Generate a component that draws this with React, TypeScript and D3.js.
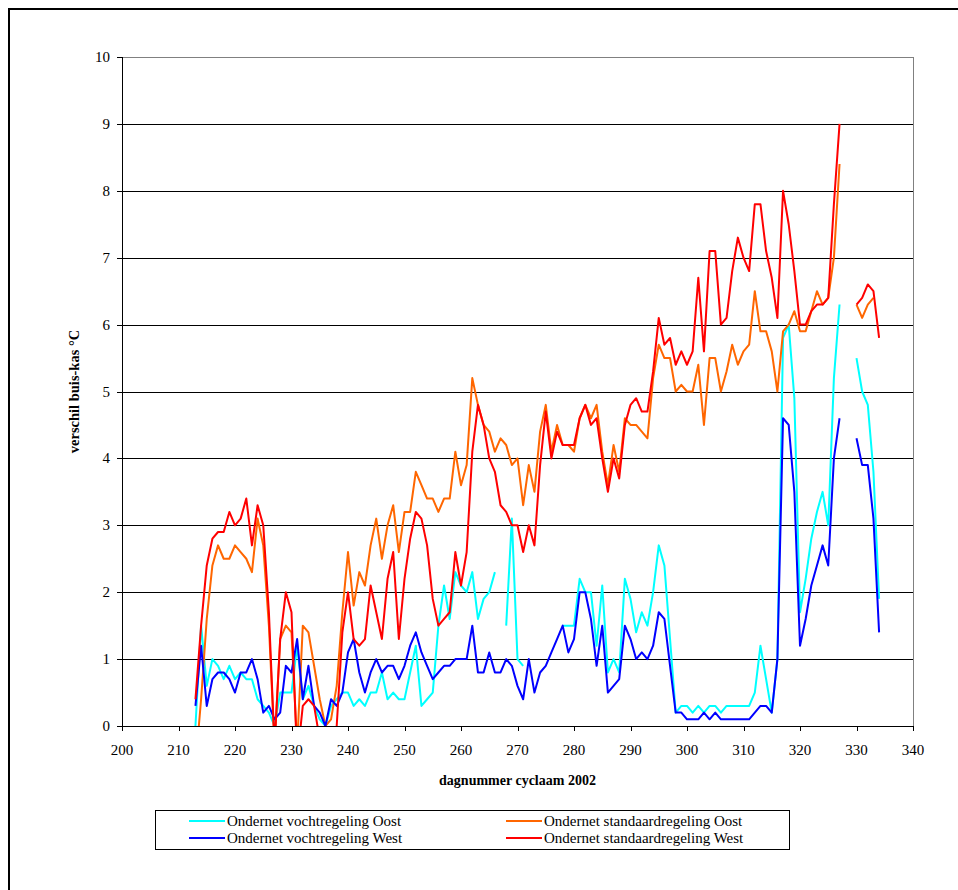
import React from "react";
import * as d3 from "d3";

const days: number[] = d3.range(213, 335);
const xTickValues = [200, 210, 220, 230, 240, 250, 260, 270, 280, 290, 300, 310, 320, 330, 340];
const yTickValues = [0, 1, 2, 3, 4, 5, 6, 7, 8, 9, 10];

const vochtOost: (number | null)[] = [
  0, 1.5, 0.6, 1.0, 0.9, 0.7, 0.9, 0.7, 0.8, 0.7,
  0.7, 0.4, 0.3, 0.2, 0, 0.5, 0.5, 0.5, 1.2, 0.4,
  0.6, 0.3, 0.1, 0, 0.3, 0.4, 0.5, 0.5, 0.3, 0.4,
  0.3, 0.5, 0.5, 0.8, 0.4, 0.5, 0.4, 0.4, 0.8, 1.2,
  0.3, 0.4, 0.5, 1.5, 2.1, 1.6, 2.3, 2.1, 2.0, 2.3,
  1.6, 1.9, 2.0, 2.3, null, 1.5, 3.1, 1.0, 0.9, null,
  null, null, null, null, null, 1.5, 1.5, 1.5, 2.2, 2.0,
  2.0, 1.2, 2.1, 0.8, 1.0, 0.8, 2.2, 1.9, 1.4, 1.7,
  1.5, 2.0, 2.7, 2.4, 1.3, 0.2, 0.3, 0.3, 0.2, 0.3,
  0.2, 0.3, 0.3, 0.2, 0.3, 0.3, 0.3, 0.3, 0.3, 0.5,
  1.2, 0.7, 0.2, 1.0, 5.8, 6.0, 4.9, 1.7, 2.2, 2.8,
  3.2, 3.5, 3.0, 5.2, 6.3, null, null, 5.5, 5.0, 4.8,
  3.8, 1.9,
];

const standaardOost: (number | null)[] = [
  -0.6, 0.4, 1.6, 2.4, 2.7, 2.5, 2.5, 2.7, 2.6, 2.5,
  2.3, 3.1, 2.7, 1.5, -0.3, 1.3, 1.5, 1.4, -0.3, 1.5,
  1.4, 0.9, 0.4, 0, 0.1, 0.6, 1.7, 2.6, 1.8, 2.3,
  2.1, 2.7, 3.1, 2.5, 3.0, 3.3, 2.6, 3.2, 3.2, 3.8,
  3.6, 3.4, 3.4, 3.2, 3.4, 3.4, 4.1, 3.6, 3.9, 5.2,
  4.8, 4.5, 4.4, 4.1, 4.3, 4.2, 3.9, 4.0, 3.3, 3.9,
  3.5, 4.4, 4.8, 4.1, 4.5, 4.2, 4.2, 4.1, 4.6, 4.8,
  4.6, 4.8, 4.1, 3.6, 4.2, 3.8, 4.6, 4.5, 4.5, 4.4,
  4.3, 5.2, 5.7, 5.5, 5.5, 5.0, 5.1, 5.0, 5.0, 5.4,
  4.5, 5.5, 5.5, 5.0, 5.3, 5.7, 5.4, 5.6, 5.7, 6.5,
  5.9, 5.9, 5.6, 5.0, 5.9, 6.0, 6.2, 5.9, 5.9, 6.2,
  6.5, 6.3, 6.4, 7.0, 8.4, null, null, 6.3, 6.1, 6.3,
  6.4, null,
];

const vochtWest: (number | null)[] = [
  0.3, 1.2, 0.3, 0.7, 0.8, 0.8, 0.7, 0.5, 0.8, 0.8,
  1.0, 0.7, 0.2, 0.3, 0.1, 0.2, 0.9, 0.8, 1.3, 0.4,
  0.9, 0.3, 0.2, 0, 0.4, 0.3, 0.5, 1.1, 1.3, 0.8,
  0.5, 0.8, 1.0, 0.8, 0.9, 0.9, 0.7, 0.9, 1.2, 1.4,
  1.1, 0.9, 0.7, 0.8, 0.9, 0.9, 1.0, 1.0, 1.0, 1.5,
  0.8, 0.8, 1.1, 0.8, 0.8, 1.0, 0.9, 0.6, 0.4, 1.0,
  0.5, 0.8, 0.9, 1.1, 1.3, 1.5, 1.1, 1.3, 2.0, 2.0,
  1.6, 0.9, 1.5, 0.5, 0.6, 0.7, 1.5, 1.3, 1.0, 1.1,
  1.0, 1.2, 1.7, 1.6, 0.9, 0.2, 0.2, 0.1, 0.1, 0.1,
  0.2, 0.1, 0.2, 0.1, 0.1, 0.1, 0.1, 0.1, 0.1, 0.2,
  0.3, 0.3, 0.2, 1.0, 4.6, 4.5, 3.5, 1.2, 1.6, 2.1,
  2.4, 2.7, 2.4, 4.0, 4.6, null, null, 4.3, 3.9, 3.9,
  3.1, 1.4,
];

const standaardWest: (number | null)[] = [
  0.4, 1.5, 2.4, 2.8, 2.9, 2.9, 3.2, 3.0, 3.1, 3.4,
  2.7, 3.3, 3.0, 1.7, -0.3, 1.3, 2.0, 1.7, -0.5, 0.3,
  0.4, 0.3, -0.2, -0.5, -0.3, 0, 1.4, 2.0, 1.3, 1.2,
  1.3, 2.1, 1.7, 1.3, 2.2, 2.6, 1.3, 2.2, 2.8, 3.2,
  3.1, 2.7, 1.9, 1.5, 1.6, 1.7, 2.6, 2.1, 2.6, 4.1,
  4.8, 4.5, 4.0, 3.8, 3.3, 3.2, 3.0, 3.0, 2.6, 3.0,
  2.7, 3.9, 4.7, 4.0, 4.4, 4.2, 4.2, 4.2, 4.6, 4.8,
  4.5, 4.6, 4.0, 3.5, 4.0, 3.7, 4.5, 4.8, 4.9, 4.7,
  4.7, 5.3, 6.1, 5.7, 5.8, 5.4, 5.6, 5.4, 5.6, 6.7,
  5.6, 7.1, 7.1, 6.0, 6.1, 6.8, 7.3, 7.0, 6.8, 7.8,
  7.8, 7.1, 6.7, 6.1, 8.0, 7.5, 6.8, 6.0, 6.0, 6.2,
  6.3, 6.3, 6.4, 7.8, 9.0, null, null, 6.3, 6.4, 6.6,
  6.5, 5.8,
];

const seriesNames = [
  "Ondernet vochtregeling Oost",
  "Ondernet standaardregeling Oost",
  "Ondernet vochtregeling West",
  "Ondernet standaardregeling West",
];
const seriesColors = ["#00FFFF", "#FF6600", "#0000FF", "#FF0000"];
const seriesValues = [vochtOost, standaardOost, vochtWest, standaardWest];

const xTitle = "dagnummer cyclaam 2002";
const yTitle = "verschil buis-kas °C";

const FONT = "'Liberation Serif', 'Times New Roman', Times, serif";

export default function App() {
  const W = 958;
  const H = 890;
  const left = 122;
  const right = 913;
  const top = 57;
  const bottom = 726;

  const x = d3.scaleLinear().domain([200, 340]).range([left, right]);
  const y = d3.scaleLinear().domain([0, 10]).range([bottom, top]);

  const line = d3
    .line<[number, number | null]>()
    .defined((d) => d[1] != null)
    .x((d) => x(d[0]))
    .y((d) => y(d[1] as number));

  const legendItems = [
    { i: 0, lx: 189, ly: 821 },
    { i: 1, lx: 506, ly: 821 },
    { i: 2, lx: 189, ly: 838 },
    { i: 3, lx: 506, ly: 838 },
  ];

  const txt = { fontFamily: FONT };

  return (
    <svg
      width={W}
      height={H}
      style={{ position: "absolute", left: 0, top: 0, background: "#fff", fontFamily: FONT }}
    >
      <defs>
        <clipPath id="plotClip">
          <rect x={left} y={top - 2} width={right - left} height={bottom - top + 2} />
        </clipPath>
      </defs>
      <rect x={0} y={0} width={W} height={H} fill="#fff" />
      <rect x={9} y={9} width={1000} height={1000} fill="none" stroke="#000" strokeWidth={2} />

      {yTickValues.filter((v) => v > 0).map((v) => (
        <line
          key={"g" + v}
          x1={left}
          x2={right}
          y1={Math.round(y(v)) + 0.5}
          y2={Math.round(y(v)) + 0.5}
          stroke={v === 10 ? "#808080" : "#000"}
          strokeWidth={1}
        />
      ))}
      <line x1={right + 0.5} x2={right + 0.5} y1={top} y2={bottom} stroke="#808080" strokeWidth={1} />

      <g clipPath="url(#plotClip)">
        {seriesValues.map((vals, si) => (
          <path
            key={"s" + si}
            d={line(days.map((d, k) => [d, vals[k]] as [number, number | null])) || ""}
            fill="none"
            stroke={seriesColors[si]}
            strokeWidth={2}
            strokeLinejoin="round"
          />
        ))}
      </g>

      <line x1={left + 0.5} x2={left + 0.5} y1={top} y2={bottom} stroke="#000" strokeWidth={1} />
      <line x1={left} x2={right + 1} y1={bottom + 0.5} y2={bottom + 0.5} stroke="#000" strokeWidth={1} />
      {yTickValues.map((v) => (
        <g key={"yt" + v}>
          <line
            x1={left - 5}
            x2={left}
            y1={Math.round(y(v)) + 0.5}
            y2={Math.round(y(v)) + 0.5}
            stroke="#000"
          />
          <text x={left - 12} y={y(v) + 5} textAnchor="end" fontSize={15} fill="#000" style={txt}>
            {v}
          </text>
        </g>
      ))}
      {xTickValues.map((v) => (
        <g key={"xt" + v}>
          <line
            x1={Math.round(x(v)) + 0.5}
            x2={Math.round(x(v)) + 0.5}
            y1={bottom}
            y2={bottom + 5}
            stroke="#000"
          />
          <text x={x(v)} y={755} textAnchor="middle" fontSize={15} fill="#000" style={txt}>
            {v}
          </text>
        </g>
      ))}

      <text
        x={(left + right) / 2}
        y={785}
        textAnchor="middle"
        fontSize={14}
        fontWeight="bold"
        fill="#000"
        style={txt}
      >
        {xTitle}
      </text>
      <text
        transform={`translate(79, ${(top + bottom) / 2}) rotate(-90)`}
        textAnchor="middle"
        fontSize={14.5}
        fontWeight="bold"
        fill="#000"
        style={txt}
      >
        {yTitle}
      </text>

      <rect x={155.5} y={810.5} width={634} height={39} fill="#fff" stroke="#000" strokeWidth={1} />
      {legendItems.map(({ i, lx, ly }) => (
        <g key={"l" + i}>
          <line x1={lx} x2={lx + 36} y1={ly} y2={ly} stroke={seriesColors[i]} strokeWidth={2} />
          <text x={lx + 38} y={ly + 5} fontSize={15} fill="#000" style={txt}>
            {seriesNames[i]}
          </text>
        </g>
      ))}
    </svg>
  );
}
